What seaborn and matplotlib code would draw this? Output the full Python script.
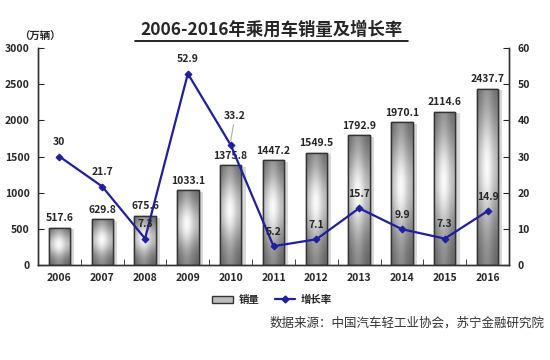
import numpy as np
import pandas as pd
import seaborn as sns
import matplotlib.pyplot as plt
from matplotlib.lines import Line2D
from matplotlib.patches import Patch
import matplotlib.patheffects as pe

years = ['2006', '2007', '2008', '2009', '2010', '2011', '2012', '2013', '2014', '2015', '2016']
sales = [517.6, 629.8, 675.6, 1033.1, 1375.8, 1447.2, 1549.5, 1792.9, 1970.1, 2114.6, 2437.7]
growth = [30, 21.7, 7.3, 52.9, 33.2, 5.2, 7.1, 15.7, 9.9, 7.3, 14.9]
growth_labels = ['30', '21.7', '7.3', '52.9', '33.2', '5.2', '7.1', '15.7', '9.9', '7.3', '14.9']

sns.set_style('white')
plt.rcParams['font.family'] = ['Noto Sans CJK SC', 'DejaVu Sans']
plt.rcParams['font.weight'] = 'bold'

df = pd.DataFrame({'year': years, 'sales': sales, 'growth': growth})

fig = plt.figure(figsize=(5.5, 3.6), dpi=100)
ax = fig.add_axes([38/550, 1-265/360, (509-38)/550, (265-48)/360])

sns.barplot(data=df, x='year', y='sales', ax=ax, color='#999999', width=0.5,
            edgecolor='#333333', linewidth=1)

# cylinder-like gradient inside each bar
hx = np.linspace(0, 1, 64)
vy = np.linspace(0, 1, 128)
hprof = 0.72 + 0.28 * np.exp(-((hx - 0.45) / 0.3) ** 2)
vprof = 0.52 + 0.46 * np.exp(-((vy - 0.55) / 0.32) ** 2)
grad = vprof[:, None] * hprof[None, :]
for p in ax.patches:
    x0, w, h = p.get_x(), p.get_width(), p.get_height()
    p.set_path_effects([pe.SimplePatchShadow(offset=(3, -1), shadow_rgbFace='#c8c8c8', alpha=0.7), pe.Normal()])
    im = ax.imshow(grad, cmap='gray', vmin=0, vmax=1, aspect='auto', origin='lower',
                   extent=(x0, x0 + w, 0, h), zorder=p.get_zorder() + 0.1, interpolation='bicubic')
    im.set_clip_path(p)
    ax.add_patch(plt.Rectangle((x0, 0), w, h, fill=False, edgecolor='#333333', lw=1,
                               zorder=p.get_zorder() + 0.2))
ax.set_xlim(-0.5, 10.5)
ax.set_ylim(0, 3000)

for i, v in enumerate(sales):
    ax.text(i, v + 65, f'{v}', ha='center', va='bottom', fontsize=7.5, fontweight='bold', zorder=5)

ax2 = ax.twinx()
sns.lineplot(x=np.arange(len(years)), y=growth, ax=ax2, color='#1f1fa0', linewidth=1.6,
             marker='D', markersize=3.5, markeredgecolor='#1f1fa0')
ax2.set_ylim(0, 60)
ax2.set_xlim(-0.5, 10.5)
for i, (g, t) in enumerate(zip(growth, growth_labels)):
    if i == 4:
        # label raised with a leader line
        ax2.annotate(t, xy=(i, g + 1.2), xytext=(i + 0.1, g + 6.5), ha='center', va='bottom',
                     fontsize=7.5, fontweight='bold', zorder=6,
                     arrowprops=dict(arrowstyle='-', color='#aaaaaa', lw=0.8, shrinkA=0, shrinkB=0))
    else:
        ax2.text(i, g + 2.6, t, ha='center', va='bottom', fontsize=7.5, fontweight='bold', zorder=6)

ax.set_xlabel('')
ax.set_ylabel('')
ax2.set_ylabel('')
ax.set_yticks(range(0, 3001, 500))
ax2.set_yticks(range(0, 61, 10))
ax.set_xticks(range(len(years)))
ax.set_xticklabels(years)
ax.set_xticks(np.arange(-0.5, 10.6, 1), minor=True)
for a in (ax, ax2):
    a.spines['top'].set_visible(False)
    for s in ('left', 'right', 'bottom'):
        a.spines[s].set_color('#333333')
        a.spines[s].set_linewidth(1)
ax.tick_params(axis='y', direction='in', length=4, labelsize=7.5, pad=6, left=True)
ax2.tick_params(axis='y', direction='in', length=4, labelsize=7.5, pad=6, right=True)
ax.tick_params(axis='x', which='major', length=0, labelsize=7.5, pad=6)
ax.tick_params(axis='x', which='minor', direction='in', length=4, bottom=True)
for lab in ax.get_xticklabels() + ax.get_yticklabels() + ax2.get_yticklabels():
    lab.set_fontweight('bold')

# title with underline
fig.text(272/550, 1-30/360, '2006-2016年乘用车销量及增长率', ha='center', va='center',
         fontsize=12.5, fontweight='bold')
fig.add_artist(Line2D([135/550, 408/550], [1-41/360, 1-41/360], color='black', lw=1.2))
fig.text(40/550, 1-37/360, '（万辆）', ha='center', va='center', fontsize=7.5, fontweight='bold')

handles = [Patch(facecolor='#bbbbbb', edgecolor='#333333', label='销量'),
           Line2D([0], [0], color='#1f1fa0', marker='D', markersize=3.5, lw=1.6, label='增长率')]
fig.legend(handles=handles, loc='center', bbox_to_anchor=(272/550, 1-300/360), ncol=2,
           frameon=False, fontsize=7.5, handlelength=2, columnspacing=1.5, handletextpad=0.5)

fig.text(545/550, 1-323/360, '数据来源：中国汽车轻工业协会，苏宁金融研究院', ha='right', va='center',
         fontsize=9, fontweight='normal', color='#333333', style='italic')

fig.savefig('out.png', dpi=100)
